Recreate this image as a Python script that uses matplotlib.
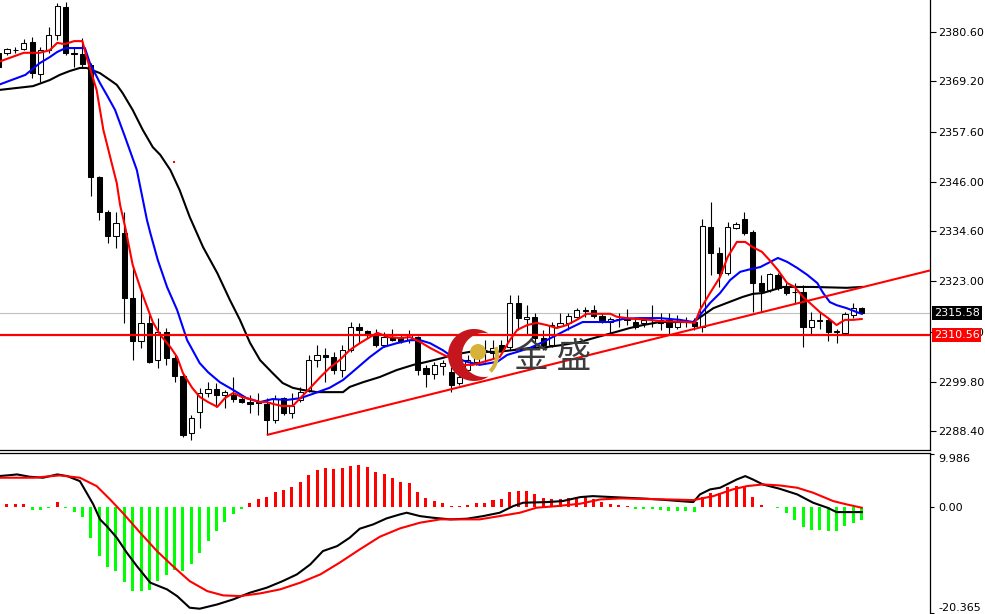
import numpy as np
import matplotlib
matplotlib.use('Agg')
from matplotlib import pyplot as plt
from matplotlib.patches import Polygon, Circle, Wedge
from matplotlib.transforms import blended_transform_factory

plt.rcParams['font.family'] = ['DejaVu Sans']

# ---- candles ----
opens = [2375.8, 2375.7, 2376.4, 2376.6, 2378.2, 2370.9, 2376.4, 2379.9, 2386.3, 2375.8,
         2375.5, 2373.0, 2347.2, 2339.1, 2333.5, 2334.2, 2319.1, 2309.1, 2313.3, 2304.8,
         2311.4, 2305.2, 2301.1, 2287.9, 2292.9, 2297.1, 2298.1, 2296.7, 2296.7, 2295.8,
         2295.2, 2295.1, 2294.7, 2291.0, 2296.0, 2292.5, 2295.6, 2297.9, 2304.8, 2306.0,
         2305.6, 2302.5, 2307.1, 2312.5, 2311.6, 2310.6, 2308.3, 2310.2, 2309.8, 2309.4,
         2310.2, 2302.9, 2301.7, 2303.4, 2302.1, 2299.4, 2302.5, 2304.4, 2307.1, 2306.4,
         2308.3, 2307.9, 2317.9, 2314.2, 2314.8, 2309.8, 2308.3, 2312.7, 2313.3, 2314.8,
         2316.2, 2316.4, 2315.0, 2313.7, 2314.2, 2314.2, 2313.7, 2313.3, 2314.1, 2314.1,
         2314.1, 2312.5, 2313.7, 2313.7, 2312.5, 2335.6, 2329.6, 2325.0, 2335.4, 2337.3,
         2334.5, 2322.7, 2321.0, 2324.5, 2321.8, 2320.6, 2320.6, 2312.5, 2313.9, 2314.1,
         2311.4, 2311.1, 2315.2, 2316.8]
highs = [2376.5, 2377.0, 2377.2, 2378.9, 2379.5, 2377.2, 2381.7, 2387.2, 2387.6, 2376.8,
         2379.2, 2373.4, 2347.3, 2339.5, 2339.1, 2339.1, 2326.8, 2320.6, 2315.2, 2314.5,
         2312.2, 2306.0, 2301.7, 2292.1, 2298.3, 2299.8, 2299.6, 2297.9, 2301.0, 2296.7,
         2296.7, 2297.1, 2296.0, 2296.7, 2296.3, 2297.1, 2298.7, 2306.0, 2308.3, 2307.5,
         2306.7, 2308.3, 2313.7, 2313.4, 2311.8, 2311.9, 2311.4, 2311.9, 2310.6, 2311.8,
         2310.4, 2303.7, 2304.4, 2304.8, 2303.3, 2301.7, 2306.0, 2307.1, 2309.4, 2309.4,
         2309.4, 2319.8, 2319.8, 2317.5, 2315.6, 2311.8, 2313.7, 2315.6, 2315.6, 2316.8,
         2317.1, 2317.5, 2315.6, 2314.8, 2315.6, 2316.5, 2314.8, 2314.8, 2317.5, 2315.6,
         2315.6, 2315.2, 2314.8, 2314.5, 2337.3, 2341.4, 2331.0, 2336.8, 2336.8, 2339.1,
         2334.9, 2324.5, 2325.0, 2324.9, 2322.5, 2322.5, 2322.2, 2316.0, 2316.0, 2314.5,
         2312.1, 2315.8, 2317.9, 2317.0]
lows = [2371.8, 2375.3, 2375.7, 2376.4, 2369.9, 2369.1, 2375.7, 2378.8, 2375.3, 2372.6,
        2372.2, 2342.6, 2337.2, 2331.8, 2330.6, 2313.3, 2304.8, 2307.5, 2304.1, 2302.9,
        2303.7, 2299.8, 2287.1, 2286.3, 2289.0, 2296.2, 2294.0, 2293.7, 2295.2, 2294.8,
        2292.5, 2292.1, 2287.5, 2290.2, 2292.1, 2291.4, 2295.2, 2297.5, 2303.3, 2299.8,
        2301.7, 2301.0, 2306.7, 2308.7, 2309.8, 2307.9, 2307.9, 2309.1, 2308.7, 2308.7,
        2301.4, 2298.7, 2300.4, 2301.4, 2297.5, 2299.0, 2302.0, 2303.7, 2304.4, 2305.3,
        2306.7, 2307.1, 2311.8, 2310.6, 2307.9, 2307.1, 2307.9, 2312.5, 2311.8, 2314.5,
        2314.8, 2314.5, 2313.3, 2311.0, 2312.5, 2312.9, 2312.1, 2312.5, 2312.5, 2311.8,
        2310.6, 2312.1, 2312.5, 2311.8, 2311.4, 2324.5, 2321.8, 2324.5, 2335.0, 2333.7,
        2316.0, 2316.0, 2320.6, 2321.0, 2319.8, 2317.9, 2307.9, 2310.6, 2312.1, 2309.1,
        2308.7, 2310.8, 2314.5, 2315.4]
closes = [2372.5, 2376.6, 2376.5, 2378.1, 2371.1, 2376.4, 2379.9, 2386.5, 2375.7, 2375.5,
          2373.2, 2347.2, 2339.1, 2333.5, 2336.4, 2319.1, 2309.1, 2313.3, 2304.4, 2311.4,
          2305.2, 2301.1, 2287.5, 2291.4, 2297.1, 2298.1, 2296.7, 2297.4, 2295.7, 2295.1,
          2294.7, 2295.0, 2291.0, 2295.8, 2292.5, 2294.3, 2297.5, 2304.8, 2306.0, 2305.6,
          2302.5, 2307.1, 2312.5, 2311.8, 2310.8, 2308.3, 2310.2, 2309.4, 2309.3, 2310.6,
          2302.5, 2301.7, 2303.7, 2304.1, 2299.0, 2301.0, 2304.8, 2306.0, 2307.2, 2307.6,
          2307.1, 2317.9, 2314.5, 2314.8, 2309.8, 2308.3, 2312.9, 2313.4, 2315.0, 2316.4,
          2316.3, 2315.0, 2314.1, 2314.2, 2314.3, 2314.1, 2312.5, 2314.1, 2314.0, 2313.3,
          2312.5, 2313.9, 2313.6, 2312.7, 2335.8, 2329.5, 2324.9, 2335.5, 2336.2, 2334.2,
          2322.5, 2320.8, 2324.7, 2321.4, 2320.2, 2320.5, 2312.5, 2314.1, 2313.9, 2311.4,
          2311.5, 2315.5, 2316.8, 2315.58]

# ---- moving averages (bar position, price) ----
ma_red_x = [0, 3, 4.9, 6.1, 7, 7.9, 9, 10, 10.5, 11.7, 12.5, 13.5, 14.1, 14.5, 15.1, 16, 17.2, 18.4,
            19.3, 20.5, 21.3, 22, 23.1, 24, 25, 26.1, 27, 28, 29, 30, 31.2, 32, 32.7, 33.8, 35.1, 36,
            37.2, 38.4, 39.5, 40.7, 41.9, 43.1, 44.3, 45.2, 46.5, 47.9, 49.1, 50.3, 51.5, 52.7, 53.9,
            55.4, 56.6, 58.6, 59.8, 61, 61.9, 63.1, 64.2, 65.4, 66.6, 67.8, 69, 70.2, 71.4, 73, 73.8,
            75, 76.2, 77.7, 78.9, 82.1, 83.1, 83.7, 84.9, 86.1, 87, 88.1, 89.1, 90, 91.1, 92, 93, 94.1,
            95, 96, 97.1, 98, 99, 100, 101, 102, 103]
ma_red = [2373.7, 2375.8, 2375.8, 2376.4, 2378.1, 2377.8, 2378.5, 2378.5, 2374.8, 2367.2, 2358.0,
          2350.3, 2345.7, 2340.6, 2335.6, 2326.8, 2319.8, 2313.6, 2310.6, 2307.8, 2305.5, 2301.8,
          2298.4, 2296.3, 2295.1, 2294.0, 2296.0, 2297.2, 2296.3, 2295.8, 2295.1, 2295.1, 2294.7,
          2294.2, 2294.2, 2296.0, 2298.4, 2300.9, 2303.0, 2304.8, 2307.1, 2308.7, 2310.1, 2311.1,
          2310.1, 2309.9, 2310.1, 2309.0, 2307.6, 2306.4, 2305.3, 2303.7, 2303.7, 2304.8, 2305.5,
          2309.4, 2311.8, 2312.9, 2313.4, 2312.9, 2312.2, 2312.9, 2314.1, 2315.5, 2315.5, 2315.5,
          2314.8, 2314.5, 2314.3, 2314.1, 2313.8, 2313.6, 2313.4, 2316.4, 2320.3, 2324.0, 2328.6,
          2332.1, 2332.1, 2330.9, 2329.8, 2327.9, 2325.6, 2322.6, 2321.7, 2319.4, 2317.5, 2315.9,
          2314.5, 2312.9, 2314.1, 2314.1, 2314.3]
ma_blue_x = [0, 3.2, 4.9, 6.1, 7, 8, 9.7, 10.3, 10.9, 12.1, 12.9, 13.9, 15.1, 16.5, 17.7, 18.1, 19,
             20.1, 21.3, 22.5, 24, 25, 26.4, 28, 29.6, 31.2, 32.7, 34.4, 36, 37.5, 39.5, 41.1, 42.8,
             44.3, 45.9, 47.5, 49.1, 50.3, 51.5, 53, 54.2, 55.9, 57.4, 59.5, 60.7, 61.9, 63.4, 65,
             66.6, 68.2, 69.7, 71.4, 73, 74.5, 76.5, 78.9, 81.3, 82.9, 83.7, 84.9, 86.1, 87.3, 88.5,
             89.7, 90.9, 92.1, 93, 94.1, 95.3, 96.5, 97.7, 98.4, 99.2, 100, 101.2, 102.4, 103]
ma_blue = [2368.4, 2370.7, 2373.4, 2374.8, 2376.0, 2376.9, 2376.9, 2376.9, 2373.4, 2368.8, 2366.1,
           2362.6, 2356.3, 2348.7, 2337.2, 2334.2, 2327.9, 2321.7, 2316.4, 2309.4, 2304.1, 2302.0,
           2299.7, 2297.9, 2296.0, 2295.1, 2295.8, 2295.6, 2296.0, 2297.0, 2298.4, 2300.2, 2303.0,
           2305.5, 2307.8, 2308.7, 2309.4, 2309.4, 2308.7, 2307.1, 2305.5, 2304.4, 2303.7, 2304.4,
           2306.0, 2306.7, 2307.6, 2309.0, 2310.6, 2312.2, 2313.6, 2313.6, 2313.6, 2314.3, 2314.5,
           2314.5, 2314.1, 2313.6, 2315.2, 2318.0, 2320.3, 2323.3, 2325.2, 2325.8, 2326.3, 2327.5,
           2328.4, 2327.5, 2326.1, 2324.5, 2322.6, 2320.3, 2318.2, 2317.5, 2316.8, 2315.9, 2315.5]
ma_black_x = [0, 4.1, 6.1, 7.3, 8.5, 9.7, 10.5, 12.1, 13.3, 14.1, 14.8, 16, 17.2, 18.4, 19.3, 20.5,
              21.6, 22.8, 24.4, 26.1, 27.6, 28.8, 30, 31.2, 32.7, 33.9, 35.1, 36.3, 38, 39.5, 41.1,
              41.9, 43.5, 45.5, 47.5, 49.5, 51.1, 53, 54.2, 56.2, 59.5, 61.4, 63.4, 65.4, 67.3, 69.4,
              71.4, 73.3, 75.3, 76.9, 78.9, 82.9, 84.1, 85.3, 86.9, 88.8, 90, 91.2, 92.4, 93.6, 97.2,
              101.2, 103]
ma_black = [2367.2, 2368.1, 2369.5, 2370.7, 2371.6, 2372.3, 2372.3, 2371.1, 2369.5, 2368.4, 2366.5,
            2362.6, 2358.0, 2354.0, 2352.2, 2348.7, 2344.1, 2337.9, 2330.9, 2324.9, 2318.7, 2314.1,
            2308.8, 2304.8, 2301.8, 2299.5, 2298.4, 2297.9, 2297.4, 2297.4, 2297.4, 2298.6, 2299.7,
            2300.9, 2302.5, 2303.7, 2304.4, 2305.3, 2306.0, 2306.7, 2306.7, 2307.1, 2307.6, 2307.8,
            2308.3, 2309.0, 2310.1, 2311.1, 2312.2, 2312.9, 2313.6, 2313.6, 2315.2, 2316.8, 2318.0,
            2319.4, 2320.1, 2320.3, 2321.0, 2321.7, 2321.7, 2321.5, 2321.7]

# ---- MACD ----
hist = [0.0, 0.52, 0.52, 0.52, -0.63, -0.63, -0.3, 0.84, -0.2, -0.95,
        -1.91, -6.03, -9.41, -11.56, -12.21, -14.31, -16.03, -16.03, -15.90, -14.12,
        -13.03, -12.08, -12.21, -10.94, -8.78, -6.49, -4.58, -2.86, -1.39, -0.38,
        0.76, 1.47, 1.91, 2.86, 3.19, 3.70, 4.66, 6.05, 7.00, 7.33,
        7.14, 7.33, 7.82, 7.96, 7.63, 6.56, 6.24, 5.42, 4.77, 4.47,
        2.86, 1.60, 1.09, 0.76, 0.13, 0.1, 0.32, 0.65, 0.8, 1.2,
        1.41, 2.86, 3.05, 3.05, 2.42, 1.60, 1.41, 1.41, 1.60, 1.91,
        1.79, 1.41, 0.95, 0.52, 0.32, 0.1, -0.50, -0.50, -0.50, -0.63,
        -0.76, -0.76, -0.76, -0.95, 1.91, 2.56, 2.67, 3.70, 3.95, 3.95,
        1.91, 0.32, -0.1, -0.31, -1.26, -2.54, -3.93, -4.45, -4.45, -4.58,
        -4.58, -3.68, -3.05, -2.54]
macd_x = [0, 1.4, 2.2, 3.7, 5.3, 7, 8.2, 9.7, 10.5, 11.3, 12.1, 12.9, 14.1, 15.3, 16.5, 18.1, 20.1,
          21.3, 22.8, 24, 26.1, 28, 30, 32, 33.9, 35.6, 37.2, 38.7, 40.4, 41.9, 43.1, 44.7, 46.3,
          47.9, 48.7, 50.3, 51.8, 53.9, 55.9, 57.8, 59.8, 61.4, 62.6, 65.4, 67.3, 69.4, 70.9, 73.3,
          77.4, 79.8, 81.3, 82.9, 83.7, 84.9, 86.1, 86.9, 88.1, 89.1, 90, 91.2, 93.2, 95.3, 97.2,
          98.9, 100, 103]
macd = [5.84, 6.03, 6.16, 5.72, 5.53, 6.16, 5.84, 4.88, 2.67, 0.44, -2.42, -3.70, -5.92, -8.78,
        -11.34, -14.50, -15.78, -17.06, -19.28, -19.47, -18.65, -17.69, -16.41, -15.46, -14.20,
        -12.92, -11.01, -8.47, -7.52, -5.92, -4.20, -3.38, -2.23, -1.47, -1.15, -1.80, -2.10, -2.42,
        -2.29, -1.80, -1.15, 0.11, 0.76, 0.88, 1.07, 1.83, 2.02, 1.83, 1.52, 1.26, 1.07, 0.88, 2.35,
        3.30, 3.62, 4.25, 5.21, 5.84, 5.21, 4.25, 3.43, 2.35, 0.76, -0.19, -1.03, -1.03]
signal_x = [0, 4.1, 7.3, 9.7, 11.7, 13.3, 14.8, 16.9, 18.9, 20.8, 22.8, 24.9, 26.8, 28.8, 31.2, 33.6,
            36, 38.4, 40.7, 43.1, 45.5, 47.9, 50.3, 52.7, 57.4, 59.8, 62.2, 64.2, 66.6, 69.4, 71.8,
            74.2, 79.8, 82.9, 85.3, 87.6, 89.3, 91.2, 93.2, 95.3, 97.2, 99.6, 101.2, 103]
signal = [5.53, 5.53, 5.97, 5.53, 3.93, 1.39, -1.15, -4.97, -8.47, -11.34, -14.20, -16.11, -16.93,
          -17.06, -16.55, -15.78, -14.50, -12.92, -10.68, -8.15, -5.73, -4.14, -3.05, -2.42, -2.42,
          -1.79, -1.15, -0.19, 0.11, 0.57, 1.39, 1.58, 1.39, 1.26, 2.02, 3.30, 3.93, 4.25, 4.06,
          3.62, 2.67, 1.07, 0.44, -0.19]

price_ticks = [2380.60, 2369.20, 2357.60, 2346.00, 2334.60, 2323.00, 2311.40, 2299.80, 2288.40]
macd_ticks = [9.986, 0.00, -20.365]
macd_labels = ['9.986', '0.00', '-20.365']
last_price = 2315.58
level_price = 2310.56
trend_x = [32, 103]
trend_y = [2287.5, 2321.6]
dot_x = [20.9]
dot_y = [2350.6]

o = np.array(opens); h = np.array(highs); l = np.array(lows); c = np.array(closes)
idx = np.arange(len(c))
x_lo, x_hi = 0.167, 111.15

fig = plt.figure(figsize=(9.85, 6.14), dpi=100)
ax = fig.add_axes([0, 164 / 614, 930 / 985, 450 / 614])
ax2 = fig.add_axes([0, 0, 930 / 985, 161 / 614])

# candles
up = c >= o
body_lo = np.minimum(o, c)
body_h = np.maximum(np.abs(c - o), 0.12)
ax.vlines(idx, l, h, color='black', lw=0.8, zorder=2)
ax.bar(idx[up], body_h[up], bottom=body_lo[up], width=0.62, color='white',
       edgecolor='black', linewidth=0.75, zorder=3)
ax.bar(idx[~up], body_h[~up], bottom=body_lo[~up], width=0.62, color='black',
       edgecolor='black', linewidth=0.75, zorder=3)

# moving averages
ax.plot(ma_black_x, ma_black, color='black', lw=1.5, zorder=4)
ax.plot(ma_blue_x, ma_blue, color='#0000ff', lw=1.5, zorder=4)
ax.plot(ma_red_x, ma_red, color='#ff0000', lw=1.5, zorder=4)

# lines
ax.axhline(last_price, color='#c0c0c0', lw=0.8, zorder=1)
ax.axhline(level_price, color='#ff0000', lw=1.6, zorder=5)
slope = (trend_y[1] - trend_y[0]) / (trend_x[1] - trend_x[0])
ax.plot([trend_x[0], x_hi], [trend_y[0], trend_y[0] + slope * (x_hi - trend_x[0])],
        color='#ff0000', lw=1.5, zorder=5, solid_capstyle='butt')
ax.scatter(dot_x, dot_y, marker='s', s=3, color='#ff0000', zorder=5, linewidths=0)

ax.set_xlim(x_lo, x_hi)
ax.set_ylim(2284.03, 2388.0)
ax.set_xticks([])
ax.yaxis.tick_right()
ax.set_yticks(price_ticks)
ax.set_yticklabels(['%.2f' % t for t in price_ticks])
ax.tick_params(axis='y', length=4, width=0.8, pad=2, labelsize=8, colors='black')
for s in ['left', 'top']:
    ax.spines[s].set_visible(False)
for s in ['right', 'bottom']:
    ax.spines[s].set_linewidth(0.9)

# price tags
tr = blended_transform_factory(ax.transAxes, ax.transData)
ax.text(1.004, last_price, '%.2f' % last_price, transform=tr, fontsize=8, color='white',
        va='center', ha='left', zorder=10, clip_on=False,
        bbox=dict(boxstyle='square,pad=0.18', facecolor='black', edgecolor='none'))
ax.text(1.004, level_price, '%.2f' % level_price, transform=tr, fontsize=8, color='white',
        va='center', ha='left', zorder=10, clip_on=False,
        bbox=dict(boxstyle='square,pad=0.18', facecolor='#ff0000', edgecolor='none'))

# MACD panel
hist = np.array(hist)
cols = np.where(hist > 0, '#ff0000', '#00ff00')
ax2.bar(np.arange(len(hist)), hist, width=0.36, color=cols, zorder=2)
ax2.plot(macd_x, macd, color='black', lw=1.5, zorder=3)
ax2.plot(signal_x, signal, color='#ff0000', lw=1.5, zorder=3)
ax2.set_xlim(x_lo, x_hi)
ax2.set_ylim(-20.48, 10.25)
ax2.set_xticks([])
ax2.yaxis.tick_right()
ax2.set_yticks(macd_ticks)
ax2.set_yticklabels(macd_labels)
ax2.tick_params(axis='y', length=3, width=0.8, pad=3, labelsize=8, colors='black')
labs = ax2.get_yticklabels()
labs[0].set_va('top')
labs[-1].set_va('bottom')
for s in ['left', 'bottom']:
    ax2.spines[s].set_visible(False)
for s in ['right', 'top']:
    ax2.spines[s].set_linewidth(0.9)

# watermark logo
lax = fig.add_axes([444 / 985, 1 - 385 / 614, 60 / 985, 60 / 614])
lax.set_xlim(-30, 30)
lax.set_ylim(-30, 30)
lax.axis('off')
lax.patch.set_visible(False)
R, d, r = 26.0, 10.0, 22.0
xi = (R ** 2 - r ** 2 + d ** 2) / (2 * d)
yi = np.sqrt(R ** 2 - xi ** 2)
a_out = np.arctan2(yi, xi)
a_in = np.arctan2(yi, xi - d)
t1 = np.linspace(a_out, 2 * np.pi - a_out, 120)
t2 = np.linspace(2 * np.pi - a_in, a_in, 120)
pts = np.vstack([np.column_stack([R * np.cos(t1), R * np.sin(t1)]),
                 np.column_stack([d + r * np.cos(t2), r * np.sin(t2)])])
lax.add_patch(Polygon(pts, closed=True, facecolor='#c4161c', edgecolor='none'))
lax.add_patch(Wedge((0, 0), 25, -45, 20, width=4, facecolor='#d6b23a', edgecolor='none'))
lax.add_patch(Circle((4, 3), 8, facecolor='#d6b23a', edgecolor='none'))
fig.text(553 / 985, 1 - 358 / 614, '金 盛', fontsize=25, color='#3c3c3c',
         family=['Noto Sans CJK SC', 'DejaVu Sans'], ha='center', va='center')

fig.savefig('out.png', dpi=100, facecolor='white')
